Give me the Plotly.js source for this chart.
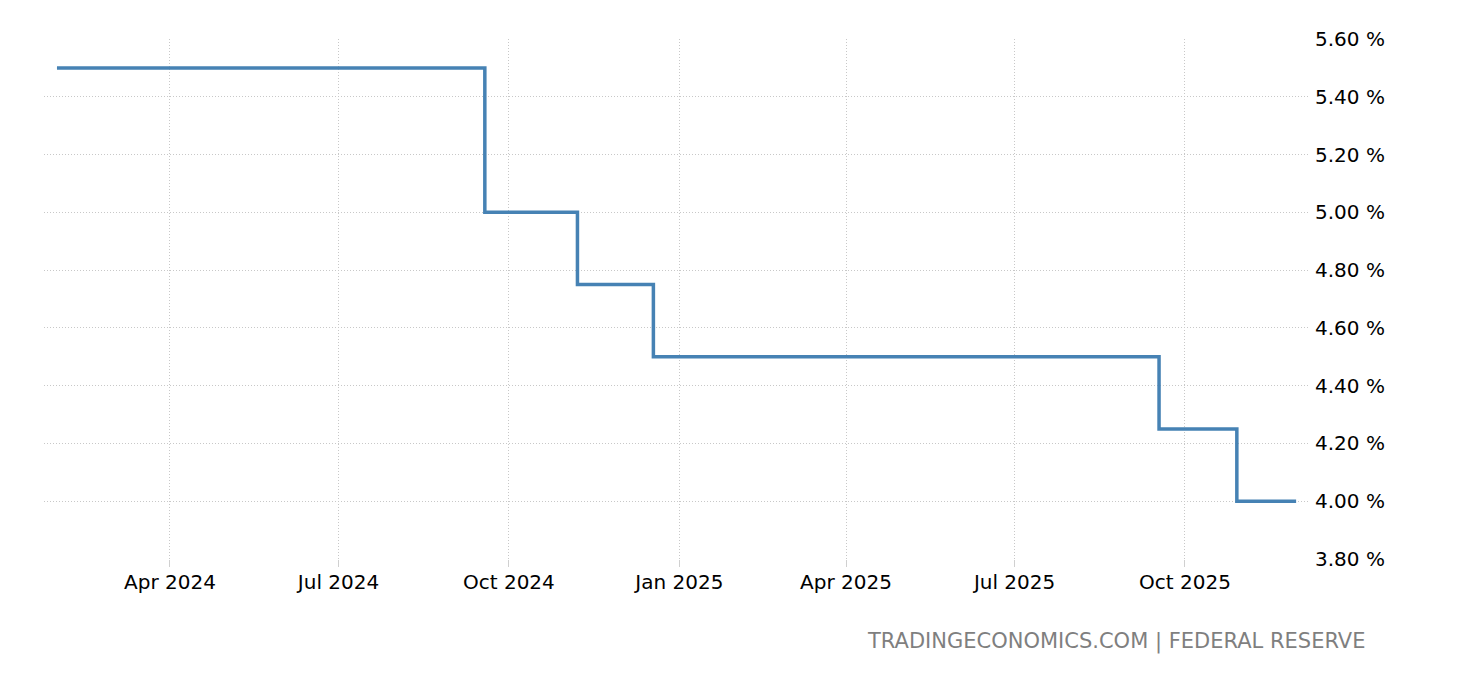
<!DOCTYPE html>
<html>
<head>
<meta charset="utf-8">
<script src="https://cdn.plot.ly/plotly-3.0.1.min.js"></script>
<style>
html,body{margin:0;padding:0;background:#fff;}
#chart{width:1460px;height:680px;}
</style>
</head>
<body>
<div id="chart"></div>
<script>
// Fed funds rate (upper bound), %
const dates = [
  "2024-01-31","2024-02-29","2024-03-20","2024-05-01","2024-06-12","2024-07-31",
  "2024-08-31","2024-09-18","2024-10-31","2024-11-07","2024-12-18","2025-01-29",
  "2025-02-28","2025-03-19","2025-05-07","2025-06-18","2025-07-30","2025-08-31",
  "2025-09-17","2025-10-29","2025-11-30"
];
const rates = [
  5.50,5.50,5.50,5.50,5.50,5.50,
  5.50,5.00,5.00,4.75,4.50,4.50,
  4.50,4.50,4.50,4.50,4.50,4.50,
  4.25,4.00,4.00
];
const yTicks = [3.8,4.0,4.2,4.4,4.6,4.8,5.0,5.2,5.4,5.6];
const yTickLabels = yTicks.map(v => v.toFixed(2) + " %");
const sourceText = "TRADINGECONOMICS.COM | FEDERAL RESERVE";

const trace = {
  x: dates, y: rates, type: "scatter", mode: "lines",
  line: {shape: "hv", color: "#4682b4", width: 3.5},
  hoverinfo: "x+y"
};

const FONT = "DejaVu Sans, Verdana, sans-serif";

const layout = {
  width: 1460, height: 680,
  margin: {l: 44, r: 152, t: 39, b: 121},
  paper_bgcolor: "#fff", plot_bgcolor: "#fff",
  showlegend: false,
  font: {family: FONT, size: 20, color: "#000"},
  xaxis: {
    type: "date",
    range: ["2024-01-24", "2025-12-06 10:00"],
    tick0: "2024-01-01", dtick: "M3",
    tickformat: "%b %Y",
    ticks: "outside", ticklen: 7, tickcolor: "#d0d0d0", tickwidth: 1,
    ticklabelstandoff: -2,
    showgrid: true, gridcolor: "#c8c8c8", griddash: "1px,2px", gridwidth: 1,
    zeroline: false, showline: false,
    tickfont: {family: FONT, size: 20, color: "#000"}
  },
  yaxis: {
    side: "right",
    range: [3.8, 5.6],
    tickmode: "array",
    tickvals: yTicks,
    ticktext: yTickLabels,
    ticks: "", ticklabelstandoff: 6,
    showgrid: true, gridcolor: "#c8c8c8", griddash: "1px,2px", gridwidth: 1,
    zeroline: false, showline: false,
    tickfont: {family: FONT, size: 20, color: "#000"}
  },
  annotations: [{
    text: sourceText, xref: "paper", yref: "paper",
    x: (1368 - 44) / (1460 - 44 - 152), y: -(642 - 559) / (559 - 39),
    xanchor: "right", yanchor: "middle", showarrow: false,
    font: {family: FONT, size: 21, color: "#7f7f7f"}
  }]
};

Plotly.newPlot("chart", [trace], layout, {displayModeBar: false, staticPlot: true});
</script>
</body>
</html>
